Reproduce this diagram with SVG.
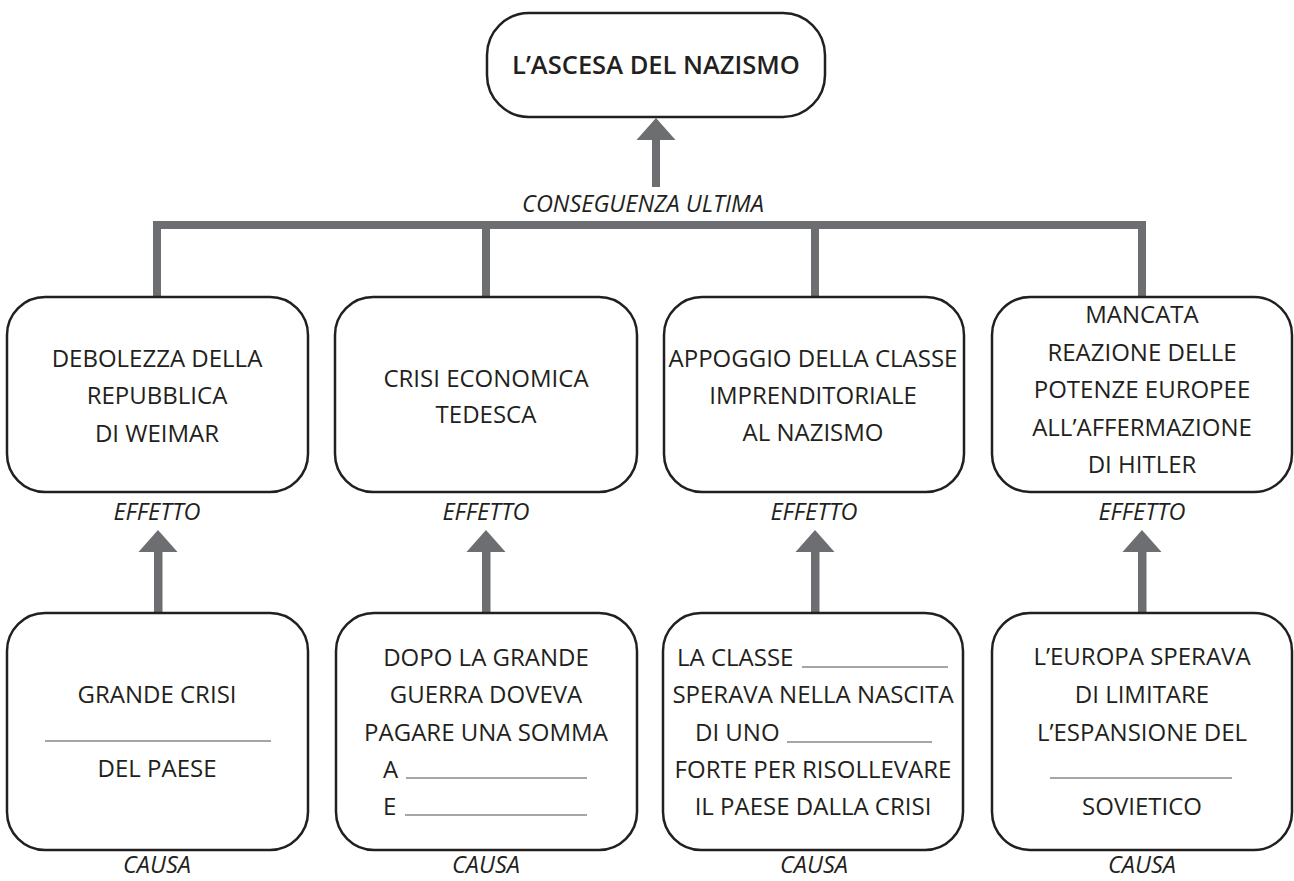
<svg xmlns="http://www.w3.org/2000/svg" width="1294" height="881" viewBox="0 0 1294 881">
<style>
.box{fill:#fff;stroke:#231f20;stroke-width:2.5}
.t{font-family:"Open Sans","Liberation Sans",sans-serif;font-size:24px;fill:#231f20;text-anchor:middle}
.l{text-anchor:start}
.title{font-weight:600;font-size:25.5px}
.lab{font-family:"Open Sans","Liberation Sans",sans-serif;font-size:23.5px;font-style:italic;fill:#231f20;text-anchor:middle}
.bar{fill:#6d6e71}
.ul{stroke:#4d4d4f;stroke-width:1.2}
</style>
<rect width="1294" height="881" fill="#fff"/>
<g id="connectors">
  <rect class="bar" x="652" y="138" width="8" height="49"/>
  <polygon class="bar" points="656,118 675.5,140 636.5,140"/>
  <rect class="bar" x="153" y="221" width="993" height="8"/>
  <rect class="bar" x="153" y="221" width="8" height="77"/>
  <rect class="bar" x="482" y="221" width="8" height="77"/>
  <rect class="bar" x="811" y="221" width="8" height="77"/>
  <rect class="bar" x="1138" y="221" width="8" height="77"/>
  <g>
    <rect class="bar" x="154" y="550" width="8.5" height="63"/>
    <polygon class="bar" points="158,530 177.5,552 138.5,552"/>
    <rect class="bar" x="482" y="550" width="8.5" height="63"/>
    <polygon class="bar" points="486,530 505.5,552 466.5,552"/>
    <rect class="bar" x="811" y="550" width="8.5" height="63"/>
    <polygon class="bar" points="815,530 834.5,552 795.5,552"/>
    <rect class="bar" x="1138" y="550" width="8.5" height="63"/>
    <polygon class="bar" points="1142,530 1161.5,552 1122.5,552"/>
  </g>
  <text class="lab" x="643" y="212">CONSEGUENZA ULTIMA</text>
  <text class="lab" x="157" y="520">EFFETTO</text>
  <text class="lab" x="486" y="520">EFFETTO</text>
  <text class="lab" x="814" y="520">EFFETTO</text>
  <text class="lab" x="1142" y="520">EFFETTO</text>
  <text class="lab" x="157" y="873">CAUSA</text>
  <text class="lab" x="486" y="873">CAUSA</text>
  <text class="lab" x="814" y="873">CAUSA</text>
  <text class="lab" x="1142" y="873">CAUSA</text>
</g>
<g id="top">
  <rect class="box" x="487" y="13" width="338" height="104" rx="42"/>
  <text class="t title" x="656" y="74">L’ASCESA DEL NAZISMO</text>
</g>
<g id="effect1">
  <rect class="box" x="7" y="297" width="301" height="195" rx="38"/>
  <text class="t" x="157" y="367">DEBOLEZZA DELLA</text>
  <text class="t" x="157" y="404">REPUBBLICA</text>
  <text class="t" x="157" y="442">DI WEIMAR</text>
</g>
<g id="effect2">
  <rect class="box" x="335" y="297" width="302" height="195" rx="38"/>
  <text class="t" x="486" y="387">CRISI ECONOMICA</text>
  <text class="t" x="486" y="423">TEDESCA</text>
</g>
<g id="effect3">
  <rect class="box" x="664" y="297" width="300" height="195" rx="38"/>
  <text class="t" x="813" y="367">APPOGGIO DELLA CLASSE</text>
  <text class="t" x="813" y="404">IMPRENDITORIALE</text>
  <text class="t" x="813" y="441">AL NAZISMO</text>
</g>
<g id="effect4">
  <rect class="box" x="992" y="297" width="300" height="195" rx="38"/>
  <text class="t" x="1142" y="323">MANCATA</text>
  <text class="t" x="1142" y="361">REAZIONE DELLE</text>
  <text class="t" x="1142" y="398">POTENZE EUROPEE</text>
  <text class="t" x="1142" y="436">ALL’AFFERMAZIONE</text>
  <text class="t" x="1142" y="473">DI HITLER</text>
</g>
<g id="cause1">
  <rect class="box" x="7" y="613" width="301" height="237" rx="38"/>
  <text class="t" x="157" y="703">GRANDE CRISI</text>
  <line class="ul" x1="45" y1="741" x2="271" y2="741"/>
  <text class="t" x="157" y="777">DEL PAESE</text>
</g>
<g id="cause2">
  <rect class="box" x="336" y="613" width="301" height="237" rx="38"/>
  <text class="t" x="486" y="666">DOPO LA GRANDE</text>
  <text class="t" x="486" y="703">GUERRA DOVEVA</text>
  <text class="t" x="486" y="741">PAGARE UNA SOMMA</text>
  <text class="t l" x="383" y="778">A</text>
  <line class="ul" x1="406" y1="778" x2="587" y2="778"/>
  <text class="t l" x="383" y="815">E</text>
  <line class="ul" x1="405" y1="815" x2="587" y2="815"/>
</g>
<g id="cause3">
  <rect class="box" x="663" y="613" width="300" height="237" rx="38"/>
  <text class="t l" x="677" y="666">LA CLASSE</text>
  <line class="ul" x1="802" y1="667" x2="948" y2="667"/>
  <text class="t" x="813" y="703">SPERAVA NELLA NASCITA</text>
  <text class="t l" x="695" y="741">DI UNO</text>
  <line class="ul" x1="787" y1="742" x2="932" y2="742"/>
  <text class="t" x="813" y="778">FORTE PER RISOLLEVARE</text>
  <text class="t" x="813" y="815">IL PAESE DALLA CRISI</text>
</g>
<g id="cause4">
  <rect class="box" x="992" y="613" width="300" height="237" rx="38"/>
  <text class="t" x="1142" y="665">L’EUROPA SPERAVA</text>
  <text class="t" x="1142" y="703">DI LIMITARE</text>
  <text class="t" x="1142" y="741">L’ESPANSIONE DEL</text>
  <line class="ul" x1="1050" y1="778" x2="1232" y2="778"/>
  <text class="t" x="1142" y="815">SOVIETICO</text>
</g>
</svg>
